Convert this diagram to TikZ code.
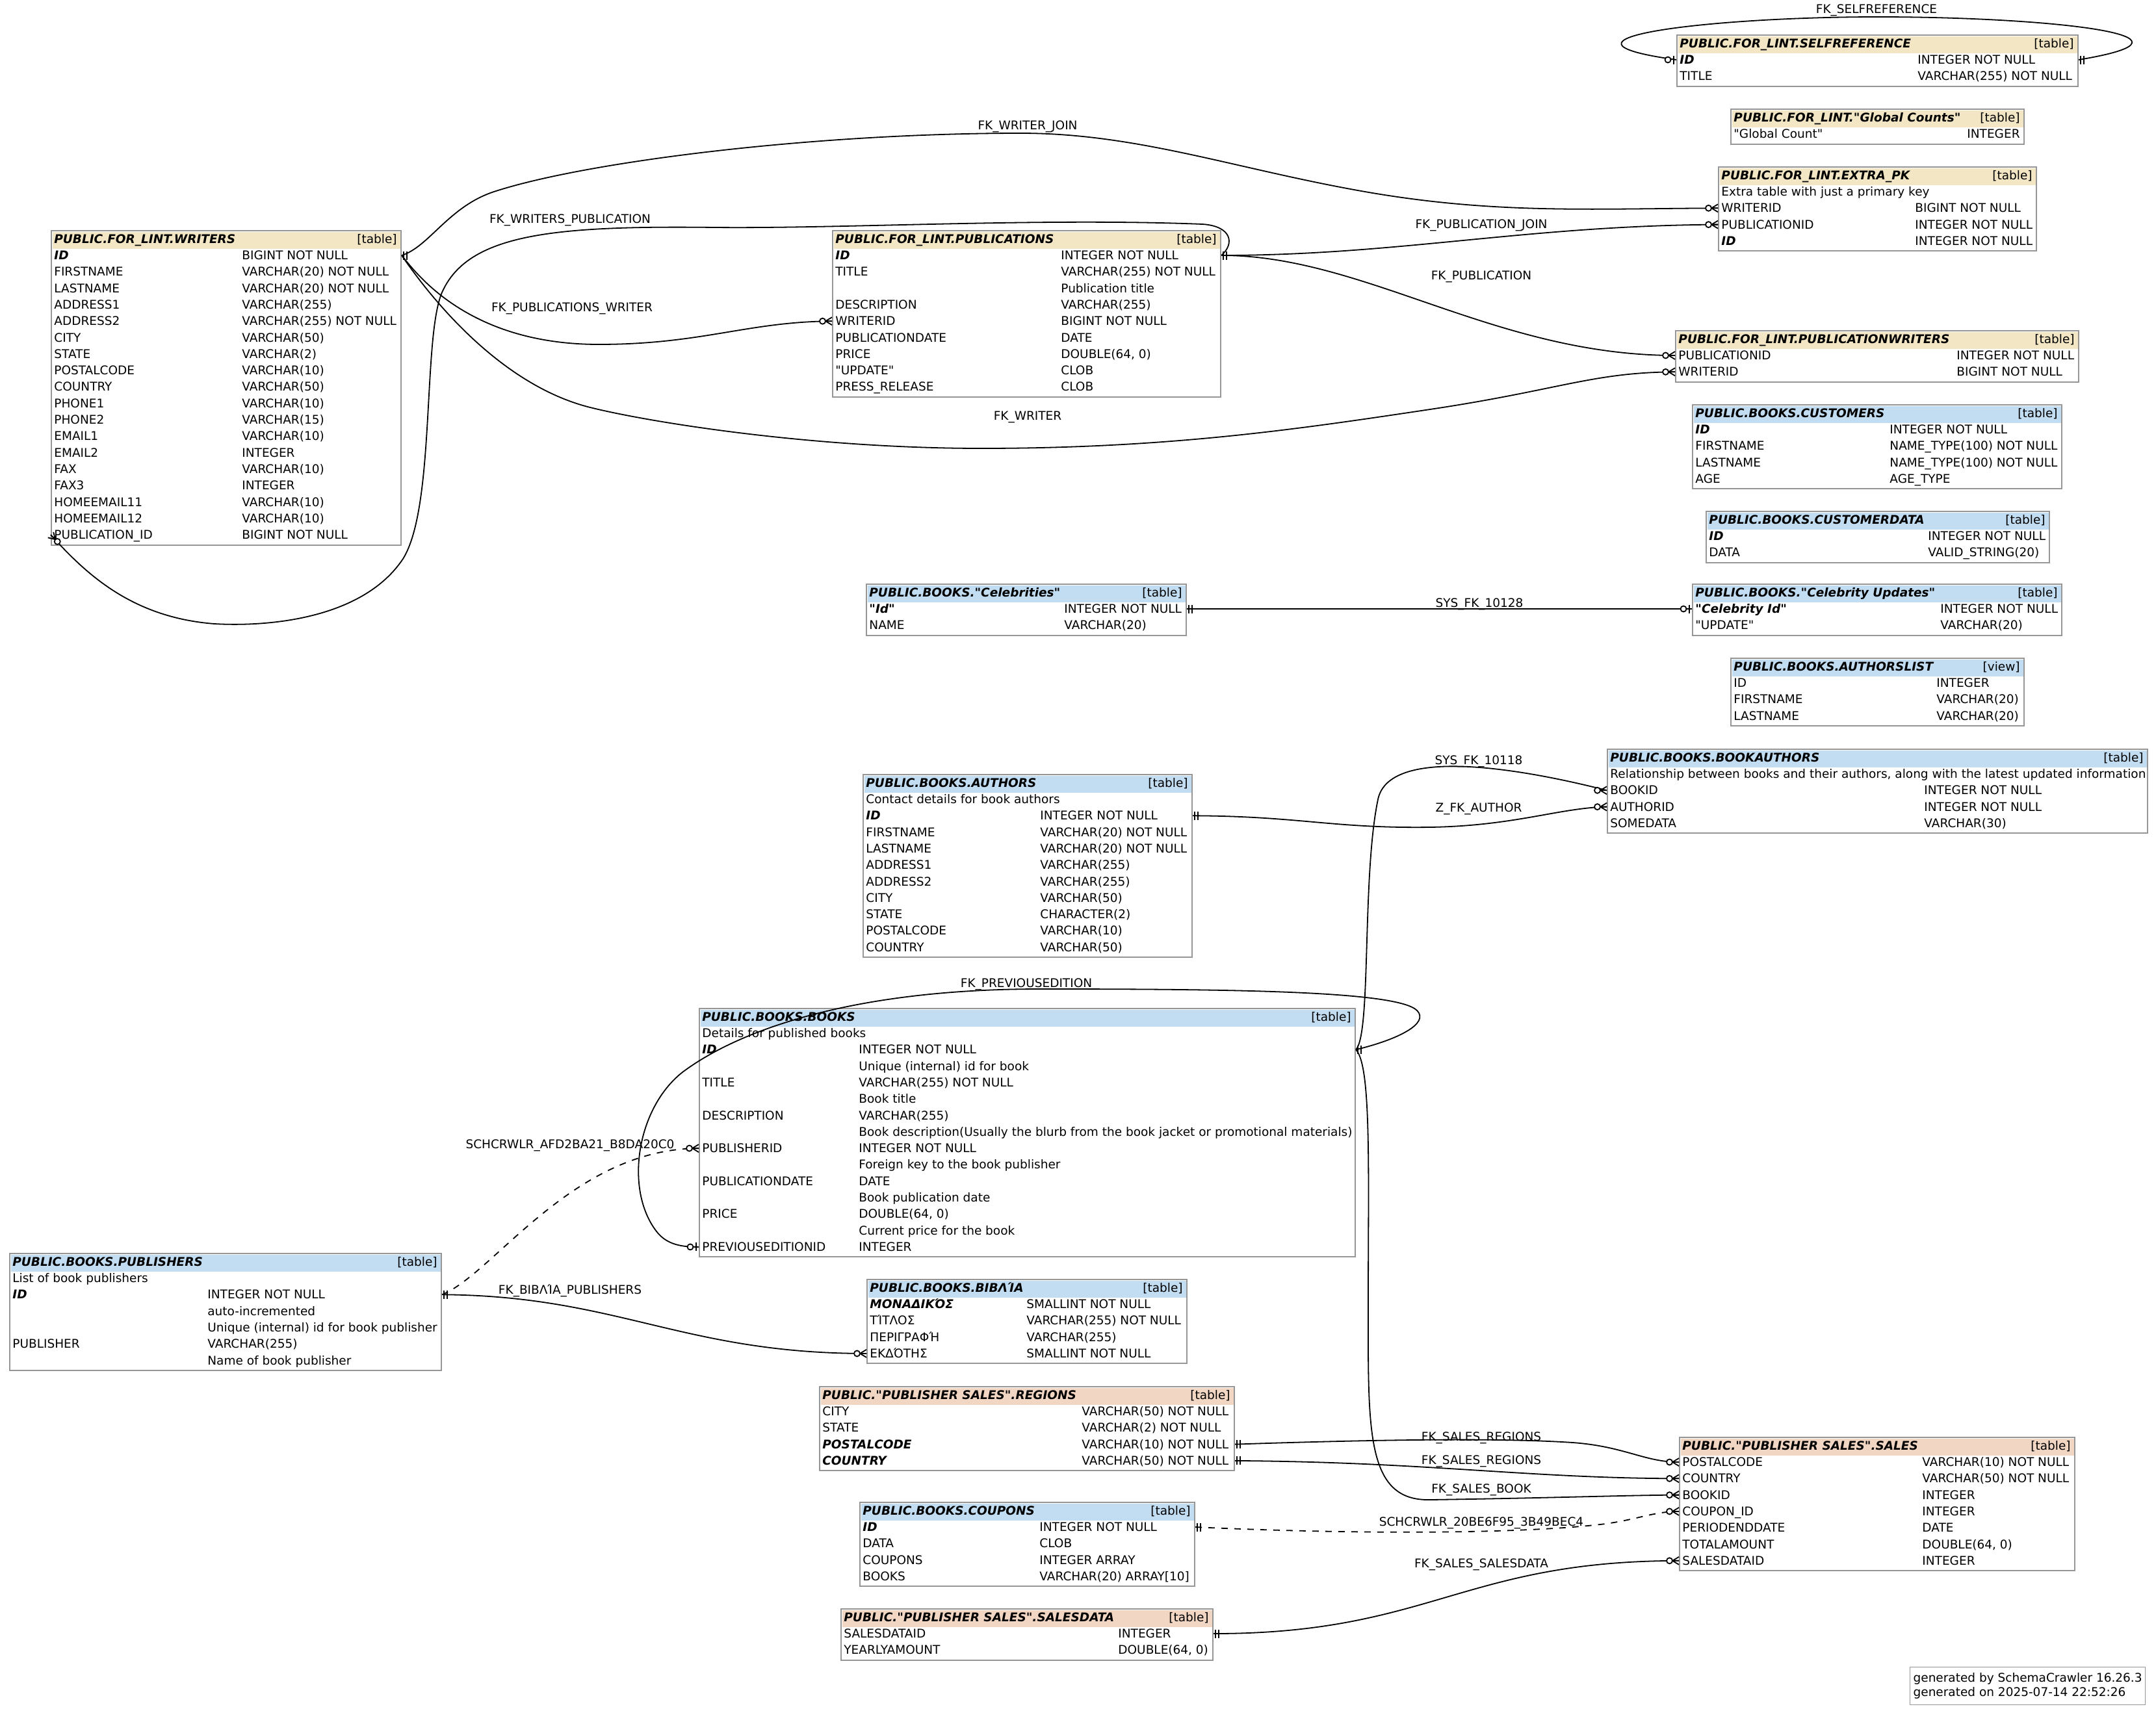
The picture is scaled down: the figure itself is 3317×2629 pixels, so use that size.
\documentclass[tikz,border=0pt]{standalone}
\usepackage{fontspec}
\newfontfamily\tabfam{DejaVu Sans}
\usetikzlibrary{fit}
\definecolor{lintbg}{RGB}{242,230,196}
\definecolor{booksbg}{RGB}{194,221,242}
\definecolor{salesbg}{RGB}{242,214,196}
\definecolor{framegray}{RGB}{150,150,150}

\newcommand{\tabfont}{\tabfam\fontsize{9.25pt}{11pt}\selectfont}
\newcommand{\pkcol}[1]{\textbf{\textit{#1}}}

\tikzset{
  tblframe/.style={draw=framegray, line width=1pt, fill=white, inner sep=0pt},
  cell/.style={inner sep=0pt, font=\tabfont, text height=8.5pt, text depth=2pt},
  tbltitle/.style={cell, anchor=west, font=\tabfont\bfseries\itshape},
  tblkind/.style={cell, anchor=east},
  colname/.style={cell, anchor=west},
  coltype/.style={cell, anchor=west},
  fklabel/.style={cell},
  fk/.style={line width=0.9pt},
  weakfk/.style={fk, dash pattern=on 5pt off 5pt},
  markline/.style={line width=0.9pt},
  footbox/.style={draw=framegray, line width=0.6pt, align=left, inner xsep=2.5pt, inner ysep=4.5pt,
    font=\tabfam\fontsize{9.25pt}{11pt}\selectfont},
  pics/many/.style={code={
    \draw[markline] (-10,0) -- (0,-6) (-10,0) -- (0,0) (-10,0) -- (0,6);
    \draw[markline, fill=white] (-14.5,0) circle[radius=4.5];}},
  pics/one/.style={code={
    \draw[markline] (-3,-6.5) -- (-3,6.5) (-8,-6.5) -- (-8,6.5);}},
  pics/zeroone/.style={code={
    \draw[markline] (-4,-6.5) -- (-4,6.5);
    \draw[markline, fill=white] (-13,0) circle[radius=4.5];}},
}

% frame and header of a table: name, left, top, right, type column, rows, colour, title, kind
\newcommand{\dbtable}[9]{%
  \def\tblN{#1}\def\tblL{#2}\def\tblT{#3}\def\tblC{#5}%
  \pgfmathsetmacro{\tblB}{#3+53.5+25.3*(#6-1)}%
  \node[tblframe, fit={(#2,#3) (#4,\tblB)}] (#1) {};
  \fill[#7] (#2+1.5,#3+1.5) rectangle (#4-1.5,#3+28);
  \node[tbltitle] (#1-title) at (#2+4,#3+13) {#8};
  \node[tblkind] (#1-kind) at (#4-6,#3+13) {[#9]};
}
% rows of the last table
\newcommand{\dbrows}[1]{%
  \foreach \colnm/\coltp [count=\i] in {#1}{
    \node[colname] (\tblN-\i) at (\tblL+4,\tblT+38+25.3*\i-25.3) {\colnm};
    \node[coltype] (\tblN-t\i) at (\tblC-1,\tblT+38+25.3*\i-25.3) {\coltp};
  }}

\begin{document}
\begin{tikzpicture}[x=0.5pt, y=-0.5pt]
\useasboundingbox (0,0) rectangle (3317,2629);
\fill[white] (0,0) rectangle (3317,2629);

% FOR_LINT tables
\dbtable{selfref}{2580}{54}{3197}{2951}{2}{lintbg}{PUBLIC.FOR\_LINT.SELFREFERENCE}{table}
\dbrows{\pkcol{ID}/INTEGER NOT NULL, TITLE/VARCHAR(255) NOT NULL}

\dbtable{globalcounts}{2663}{168}{3114}{3027}{1}{lintbg}{PUBLIC.FOR\_LINT."Global Counts"}{table}
\dbrows{"Global Count"/INTEGER}

\dbtable{extrapk}{2644}{257}{3133}{2947}{4}{lintbg}{PUBLIC.FOR\_LINT.EXTRA\_PK}{table}
\dbrows{Extra table with just a primary key/, WRITERID/BIGINT NOT NULL,
  PUBLICATIONID/INTEGER NOT NULL, \pkcol{ID}/INTEGER NOT NULL}

\dbtable{writers}{79}{355}{617}{373}{18}{lintbg}{PUBLIC.FOR\_LINT.WRITERS}{table}
\dbrows{\pkcol{ID}/BIGINT NOT NULL, FIRSTNAME/VARCHAR(20) NOT NULL, LASTNAME/VARCHAR(20) NOT NULL,
  ADDRESS1/VARCHAR(255), ADDRESS2/VARCHAR(255) NOT NULL, CITY/VARCHAR(50), STATE/VARCHAR(2),
  POSTALCODE/VARCHAR(10), COUNTRY/VARCHAR(50), PHONE1/VARCHAR(10), PHONE2/VARCHAR(15),
  EMAIL1/VARCHAR(10), EMAIL2/INTEGER, FAX/VARCHAR(10), FAX3/INTEGER, HOMEEMAIL11/VARCHAR(10),
  HOMEEMAIL12/VARCHAR(10), PUBLICATION\_ID/BIGINT NOT NULL}

\dbtable{publications}{1281}{355}{1878}{1633}{9}{lintbg}{PUBLIC.FOR\_LINT.PUBLICATIONS}{table}
\dbrows{\pkcol{ID}/INTEGER NOT NULL, TITLE/VARCHAR(255) NOT NULL, /Publication title,
  DESCRIPTION/VARCHAR(255), WRITERID/BIGINT NOT NULL, PUBLICATIONDATE/DATE,
  PRICE/{DOUBLE(64, 0)}, "UPDATE"/CLOB, PRESS\_RELEASE/CLOB}

\dbtable{pubwriters}{2578}{509}{3198}{3011}{2}{lintbg}{PUBLIC.FOR\_LINT.PUBLICATIONWRITERS}{table}
\dbrows{PUBLICATIONID/INTEGER NOT NULL, WRITERID/BIGINT NOT NULL}

% BOOKS tables
\dbtable{customers}{2604}{623}{3172}{2908}{4}{booksbg}{PUBLIC.BOOKS.CUSTOMERS}{table}
\dbrows{\pkcol{ID}/INTEGER NOT NULL, FIRSTNAME/NAME\_TYPE(100) NOT NULL,
  LASTNAME/NAME\_TYPE(100) NOT NULL, AGE/AGE\_TYPE}

\dbtable{customerdata}{2625}{787}{3153}{2967}{2}{booksbg}{PUBLIC.BOOKS.CUSTOMERDATA}{table}
\dbrows{\pkcol{ID}/INTEGER NOT NULL, DATA/VALID\_STRING(20)}

\dbtable{celebrities}{1333}{899}{1825}{1638}{2}{booksbg}{PUBLIC.BOOKS."Celebrities"}{table}
\dbrows{\pkcol{"Id"}/INTEGER NOT NULL, NAME/VARCHAR(20)}

\dbtable{celebupdates}{2604}{899}{3172}{2986}{2}{booksbg}{PUBLIC.BOOKS."Celebrity Updates"}{table}
\dbrows{\pkcol{"Celebrity Id"}/INTEGER NOT NULL, "UPDATE"/VARCHAR(20)}

\dbtable{authorslist}{2663}{1013}{3114}{2980}{3}{booksbg}{PUBLIC.BOOKS.AUTHORSLIST}{view}
\dbrows{ID/INTEGER, FIRSTNAME/VARCHAR(20), LASTNAME/VARCHAR(20)}

\dbtable{authors}{1328}{1192}{1834}{1601}{10}{booksbg}{PUBLIC.BOOKS.AUTHORS}{table}
\dbrows{Contact details for book authors/, \pkcol{ID}/INTEGER NOT NULL,
  FIRSTNAME/VARCHAR(20) NOT NULL, LASTNAME/VARCHAR(20) NOT NULL, ADDRESS1/VARCHAR(255),
  ADDRESS2/VARCHAR(255), CITY/VARCHAR(50), STATE/CHARACTER(2), POSTALCODE/VARCHAR(10),
  COUNTRY/VARCHAR(50)}

\dbtable{bookauthors}{2473}{1153}{3304}{2961}{4}{booksbg}{PUBLIC.BOOKS.BOOKAUTHORS}{table}
\dbrows{{Relationship between books and their authors, along with the latest updated information}/,
  BOOKID/INTEGER NOT NULL, AUTHORID/INTEGER NOT NULL, SOMEDATA/VARCHAR(30)}

\dbtable{books}{1076}{1552}{2085}{1322}{14}{booksbg}{PUBLIC.BOOKS.BOOKS}{table}
\dbrows{Details for published books/, \pkcol{ID}/INTEGER NOT NULL, /Unique (internal) id for book,
  TITLE/VARCHAR(255) NOT NULL, /Book title, DESCRIPTION/VARCHAR(255),
  /Book description(Usually the blurb from the book jacket or promotional materials),
  PUBLISHERID/INTEGER NOT NULL, /Foreign key to the book publisher, PUBLICATIONDATE/DATE,
  /Book publication date, PRICE/{DOUBLE(64, 0)}, /Current price for the book,
  PREVIOUSEDITIONID/INTEGER}

\dbtable{publishers}{15}{1929}{679}{320}{6}{booksbg}{PUBLIC.BOOKS.PUBLISHERS}{table}
\dbrows{List of book publishers/, \pkcol{ID}/INTEGER NOT NULL, /auto-incremented,
  /Unique (internal) id for book publisher, PUBLISHER/VARCHAR(255), /Name of book publisher}

\dbtable{biblia}{1334}{1969}{1826}{1580}{4}{booksbg}{PUBLIC.BOOKS.ΒΙΒΛΊΑ}{table}
\dbrows{\pkcol{ΜΟΝΑΔΙΚΌΣ}/SMALLINT NOT NULL, ΤΊΤΛΟΣ/VARCHAR(255) NOT NULL,
  ΠΕΡΙΓΡΑΦΉ/VARCHAR(255), ΕΚΔΌΤΗΣ/SMALLINT NOT NULL}

\dbtable{coupons}{1323}{2312}{1838}{1600}{4}{booksbg}{PUBLIC.BOOKS.COUPONS}{table}
\dbrows{\pkcol{ID}/INTEGER NOT NULL, DATA/CLOB, COUPONS/INTEGER ARRAY, BOOKS/VARCHAR(20) ARRAY[10]}

% PUBLISHER SALES tables
\dbtable{regions}{1261}{2134}{1899}{1665}{4}{salesbg}{PUBLIC."PUBLISHER SALES".REGIONS}{table}
\dbrows{CITY/VARCHAR(50) NOT NULL, STATE/VARCHAR(2) NOT NULL,
  \pkcol{POSTALCODE}/VARCHAR(10) NOT NULL, \pkcol{COUNTRY}/VARCHAR(50) NOT NULL}

\dbtable{salesdata}{1294}{2476}{1866}{1721}{2}{salesbg}{PUBLIC."PUBLISHER SALES".SALESDATA}{table}
\dbrows{SALESDATAID/INTEGER, YEARLYAMOUNT/{DOUBLE(64, 0)}}

\dbtable{sales}{2584}{2212}{3192}{2958}{7}{salesbg}{PUBLIC."PUBLISHER SALES".SALES}{table}
\dbrows{POSTALCODE/VARCHAR(10) NOT NULL, COUNTRY/VARCHAR(50) NOT NULL, BOOKID/INTEGER,
  COUPON\_ID/INTEGER, PERIODENDDATE/DATE, TOTALAMOUNT/{DOUBLE(64, 0)}, SALESDATAID/INTEGER}

% foreign keys
\draw[fk] (selfref.east |- selfref-1) .. controls (3420,55) and (3150,26) .. (2889,26)
  .. controls (2630,26) and (2350,60) .. (selfref.west |- selfref-1);
\draw[fk] (writers.east |- writers-1) .. controls (660,380) and (690,318) .. (760,295)
  .. controls (900,249) and (1250,205) .. (1570,205)
  .. controls (1750,205) and (1900,260) .. (2100,295)
  .. controls (2300,330) and (2450,321) .. (extrapk.west |- extrapk-2);
\draw[fk] (writers.east |- writers-1) .. controls (640,420) and (720,530) .. (921,530)
  .. controls (1080,530) and (1150,495) .. (publications.west |- publications-5);
\draw[fk] (writers.east |- writers-1) .. controls (650,440) and (760,590) .. (908,627)
  .. controls (1000,650) and (1250,690) .. (1510,690)
  .. controls (1800,690) and (2000,660) .. (2200,630)
  .. controls (2400,600) and (2450,573) .. (pubwriters.west |- pubwriters-2);
\draw[fk] (publications.east |- publications-1) .. controls (1900,375) and (1895,348) .. (1850,345)
  .. controls (1600,335) and (1300,352) .. (1100,350)
  .. controls (850,347) and (720,360) .. (680,450)
  .. controls (650,520) and (670,780) .. (620,860)
  .. controls (560,950) and (420,965) .. (330,960)
  .. controls (200,950) and (130,880) .. (writers.west |- writers-18);
\draw[fk] (publications.east |- publications-1) .. controls (2150,393) and (2350,347) .. (extrapk.west |- extrapk-3);
\draw[fk] (publications.east |- publications-1) .. controls (2100,393) and (2300,547) .. (pubwriters.west |- pubwriters-1);
\draw[fk] (celebrities.east |- celebrities-1) -- (celebupdates.west |- celebupdates-1);
\draw[fk] (books.east |- books-2) .. controls (2110,1590) and (2095,1350) .. (2120,1230)
  .. controls (2137,1150) and (2330,1180) .. (bookauthors.west |- bookauthors-2);
\draw[fk] (authors.east |- authors-2) .. controls (2000,1256) and (2050,1275) .. (2200,1273)
  .. controls (2330,1271) and (2400,1243) .. (bookauthors.west |- bookauthors-3);
\draw[fk] (books.east |- books-2) .. controls (2150,1600) and (2200,1575) .. (2180,1555)
  .. controls (2150,1525) and (1900,1522) .. (1600,1522)
  .. controls (1300,1522) and (1130,1590) .. (1050,1650)
  .. controls (980,1705) and (960,1830) .. (1010,1895)
  .. controls (1026,1916) and (1050,1919) .. (books.west |- books-14);
\draw[weakfk] (publishers.east |- publishers-2) .. controls (760,1960) and (880,1768) .. (books.west |- books-8);
\draw[fk] (publishers.east |- publishers-2) .. controls (950,1994) and (1050,2083) .. (biblia.west |- biblia-4);
\draw[fk] (regions.east |- regions-3) .. controls (2100,2216) and (2300,2212) .. (2420,2220)
  .. controls (2500,2226) and (2530,2250) .. (sales.west |- sales-1);
\draw[fk] (regions.east |- regions-4) .. controls (2200,2250) and (2350,2275) .. (sales.west |- sales-2);
\draw[fk] (books.east |- books-2) .. controls (2110,1640) and (2105,1800) .. (2105,2000)
  .. controls (2105,2200) and (2100,2310) .. (2200,2308)
  .. controls (2400,2305) and (2500,2301) .. (sales.west |- sales-3);
\draw[weakfk] (coupons.east |- coupons-1) .. controls (2100,2362) and (2350,2360) .. (2470,2345)
  .. controls (2520,2338) and (2545,2326) .. (sales.west |- sales-4);
\draw[fk] (salesdata.east |- salesdata-1) .. controls (2200,2514) and (2250,2402) .. (sales.west |- sales-7);

% end marks
\pic[rotate=180] at (selfref.east |- selfref-1) {one};
\pic at (selfref.west |- selfref-1) {zeroone};
\pic[rotate=180] at (writers.east |- writers-1) {one};
\pic at (extrapk.west |- extrapk-2) {many};
\pic at (extrapk.west |- extrapk-3) {many};
\pic at (publications.west |- publications-5) {many};
\pic[rotate=180] at (publications.east |- publications-1) {one};
\pic[rotate=135] at (writers.west |- writers-18) {many};
\pic at (pubwriters.west |- pubwriters-1) {many};
\pic at (pubwriters.west |- pubwriters-2) {many};
\pic[rotate=180] at (celebrities.east |- celebrities-1) {one};
\pic at (celebupdates.west |- celebupdates-1) {zeroone};
\pic[rotate=180] at (authors.east |- authors-2) {one};
\pic at (bookauthors.west |- bookauthors-2) {many};
\pic at (bookauthors.west |- bookauthors-3) {many};
\pic[rotate=180] at (books.east |- books-2) {one};
\pic at (books.west |- books-8) {many};
\pic at (books.west |- books-14) {zeroone};
\pic[rotate=180] at (publishers.east |- publishers-2) {one};
\pic at (biblia.west |- biblia-4) {many};
\pic[rotate=180] at (regions.east |- regions-3) {one};
\pic[rotate=180] at (regions.east |- regions-4) {one};
\pic[rotate=180] at (coupons.east |- coupons-1) {one};
\pic[rotate=180] at (salesdata.east |- salesdata-1) {one};
\foreach \r in {1,2,3,4,7} \pic at (sales.west |- sales-\r) {many};

% key names
\node[fklabel] (lbl-selfref) at (2887,14) {FK\_SELFREFERENCE};
\node[fklabel] (lbl-writerjoin) at (1581,193) {FK\_WRITER\_JOIN};
\node[fklabel] (lbl-writerspub) at (877,337) {FK\_WRITERS\_PUBLICATION};
\node[fklabel] (lbl-pubswriter) at (880,473) {FK\_PUBLICATIONS\_WRITER};
\node[fklabel] (lbl-pubjoin) at (2279,345) {FK\_PUBLICATION\_JOIN};
\node[fklabel] (lbl-pub) at (2279,424) {FK\_PUBLICATION};
\node[fklabel] (lbl-writer) at (1581,640) {FK\_WRITER};
\node[fklabel] (lbl-sys128) at (2276,928) {SYS\_FK\_10128};
\node[fklabel] (lbl-sys118) at (2275,1170) {SYS\_FK\_10118};
\node[fklabel] (lbl-author) at (2275,1243) {Z\_FK\_AUTHOR};
\node[fklabel] (lbl-prevedition) at (1579,1513) {FK\_PREVIOUSEDITION};
\node[fklabel] (lbl-weakpub) at (877,1761) {SCHCRWLR\_AFD2BA21\_B8DA20C0};
\node[fklabel] (lbl-biblia) at (877,1985) {FK\_ΒΙΒΛΊΑ\_PUBLISHERS};
\node[fklabel] (lbl-regions1) at (2279,2211) {FK\_SALES\_REGIONS};
\node[fklabel] (lbl-regions2) at (2279,2247) {FK\_SALES\_REGIONS};
\node[fklabel] (lbl-salesbook) at (2279,2291) {FK\_SALES\_BOOK};
\node[fklabel] (lbl-weakcoupon) at (2279,2342) {SCHCRWLR\_20BE6F95\_3B49BEC4};
\node[fklabel] (lbl-salesdata) at (2279,2406) {FK\_SALES\_SALESDATA};

\node[footbox, anchor=north west] (footer) at (2938,2565)
  {generated by SchemaCrawler 16.26.3\\generated on 2025-07-14 22:52:26};
\end{tikzpicture}
\end{document}
